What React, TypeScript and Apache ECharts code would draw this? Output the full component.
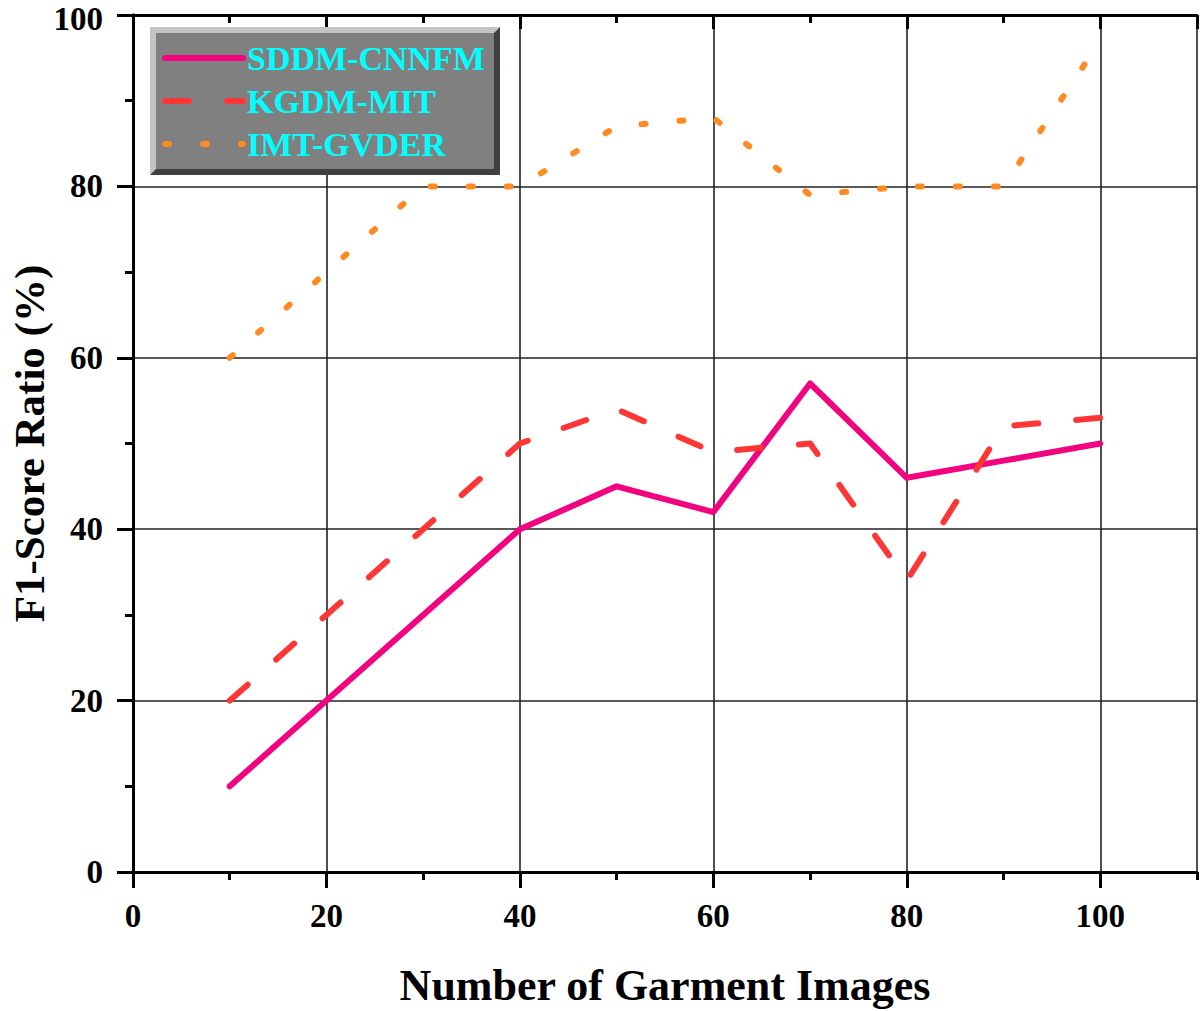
import React, { useEffect, useRef } from 'react';
import * as echarts from 'echarts';

const xValues = [10, 20, 30, 40, 50, 60, 70, 80, 90, 100];
const sddmCnnfm = [10, 20, 30, 40, 45, 42, 57, 46, 48, 50];
const kgdmMit = [20, 30, 40, 50, 54, 49, 50, 34, 52, 53];
const imtGvder = [60, 70, 80, 80, 87, 88, 79, 80, 80, 97];
const seriesNames = ['SDDM-CNNFM', 'KGDM-MIT', 'IMT-GVDER'];
const seriesColors = ['#f2037f', '#ff3636', '#ff8a22'];

const font = "'Liberation Serif', 'Times New Roman', serif";

function pairs(ys: number[]) {
  return xValues.map((x, i) => [x, ys[i]]);
}

export default function App() {
  const ref = useRef<HTMLDivElement>(null);
  useEffect(() => {
    if (!ref.current) return;
    const chart = echarts.init(ref.current, undefined, { renderer: 'svg' });
    const black = '#000';
    const tickLine = { color: black, width: 3 };
    const labelFont = { fontFamily: font, fontWeight: 'bold', fontSize: 33, color: black };
    const option: any = {
      animation: false,
      backgroundColor: '#ffffff',
      grid: { left: 133, right: 3, top: 15, bottom: 139, containLabel: false, outerBoundsMode: 'none' },
      xAxis: [
        {
          type: 'value', min: 0, max: 110, interval: 20, position: 'bottom',
          name: 'Number of Garment Images', nameLocation: 'middle', nameGap: 91,
          nameTextStyle: { fontFamily: font, fontWeight: 'bold', fontSize: 44, color: black },
          axisLine: { show: true, lineStyle: { color: black, width: 3 } },
          axisTick: { show: true, inside: false, length: 16, lineStyle: tickLine },
          axisLabel: {
            show: true, margin: 27, ...labelFont,
            showMaxLabel: false, formatter: (v: number) => (v > 100 ? '' : String(v)),
          },
          splitLine: { show: true, lineStyle: { color: '#222', width: 1.6 } },
        },
        {
          type: 'value', min: 0, max: 110, interval: 10, position: 'bottom',
          axisLine: { show: false },
          axisTick: { show: true, inside: false, length: 8, lineStyle: tickLine },
          axisLabel: { show: false }, splitLine: { show: false },
        },
        {
          type: 'value', min: 0, max: 110, interval: 20, position: 'top',
          axisLine: { show: true, lineStyle: { color: black, width: 3 } },
          axisTick: { show: true, inside: true, length: 14, lineStyle: tickLine },
          axisLabel: { show: false }, splitLine: { show: false },
        },
        {
          type: 'value', min: 0, max: 110, interval: 10, position: 'top',
          axisLine: { show: false },
          axisTick: { show: true, inside: true, length: 8, lineStyle: tickLine },
          axisLabel: { show: false }, splitLine: { show: false },
        },
      ],
      yAxis: [
        {
          type: 'value', min: 0, max: 100, interval: 20, position: 'left',
          name: 'F1-Score Ratio (%)', nameLocation: 'middle', nameGap: 82, nameMoveOverlap: false,
          nameTextStyle: { fontFamily: font, fontWeight: 'bold', fontSize: 43, color: black },
          axisLine: { show: true, lineStyle: { color: black, width: 3 } },
          axisTick: { show: true, inside: false, length: 16, lineStyle: tickLine },
          minorTick: { show: true, splitNumber: 2, length: 8, lineStyle: tickLine },
          axisLabel: {
            show: true, margin: 30, ...labelFont,
            formatter: (v: number) => (v === 100 ? '{t|100}' : String(v)),
            rich: { t: { ...labelFont, padding: [7, 0, 0, 0] } },
          },
          splitLine: { show: true, lineStyle: { color: '#222', width: 1.6 } },
        },
        {
          type: 'value', min: 0, max: 100, interval: 20, position: 'right',
          axisLine: { show: true, lineStyle: { color: black, width: 3 } },
          axisTick: { show: true, inside: true, length: 16, lineStyle: tickLine },
          minorTick: { show: true, splitNumber: 2, length: 8, lineStyle: tickLine },
          axisLabel: { show: false }, splitLine: { show: false },
        },
      ],
      legend: {
        orient: 'vertical', left: 157, top: 36, itemWidth: 78, itemHeight: 10, itemGap: 9,
        selectedMode: false, z: 20,
        textStyle: {
          color: '#00ffff', fontFamily: font, fontWeight: 'bold', fontSize: 34,
          padding: [0, 0, 0, -1],
        },
        itemStyle: { opacity: 0 },
        lineStyle: { width: 6, cap: 'round' },
        data: seriesNames,
      },
      graphic: [
        { type: 'rect', z: 5, shape: { x: 150, y: 27, width: 350, height: 148 }, style: { fill: '#404040' } },
        {
          type: 'polygon', z: 5,
          shape: { points: [[150, 27], [500, 27], [494, 33], [156, 33], [156, 169], [150, 175]] },
          style: { fill: '#c4c4c4' },
        },
        { type: 'rect', z: 5, shape: { x: 156, y: 33, width: 338, height: 136 }, style: { fill: '#808080' } },
      ],
      series: [
        {
          name: seriesNames[0], type: 'line', xAxisIndex: 0, yAxisIndex: 0, symbol: 'none',
          data: pairs(sddmCnnfm), color: seriesColors[0],
          lineStyle: { color: seriesColors[0], width: 6, type: 'solid', cap: 'round', join: 'round' },
        },
        {
          name: seriesNames[1], type: 'line', xAxisIndex: 0, yAxisIndex: 0, symbol: 'none',
          data: pairs(kgdmMit), color: seriesColors[1],
          lineStyle: { color: seriesColors[1], width: 6, type: [24, 38], cap: 'round', join: 'round' },
        },
        {
          name: seriesNames[2], type: 'line', xAxisIndex: 0, yAxisIndex: 0, symbol: 'none',
          data: pairs(imtGvder), color: seriesColors[2],
          lineStyle: { color: seriesColors[2], width: 6, type: [4, 34], cap: 'round', join: 'round' },
        },
      ],
    };
    chart.setOption(option);
    return () => chart.dispose();
  }, []);
  return (
    <div
      ref={ref}
      style={{ position: 'fixed', left: 0, top: 0, width: 1200, height: 1011, background: '#fff' }}
    />
  );
}
